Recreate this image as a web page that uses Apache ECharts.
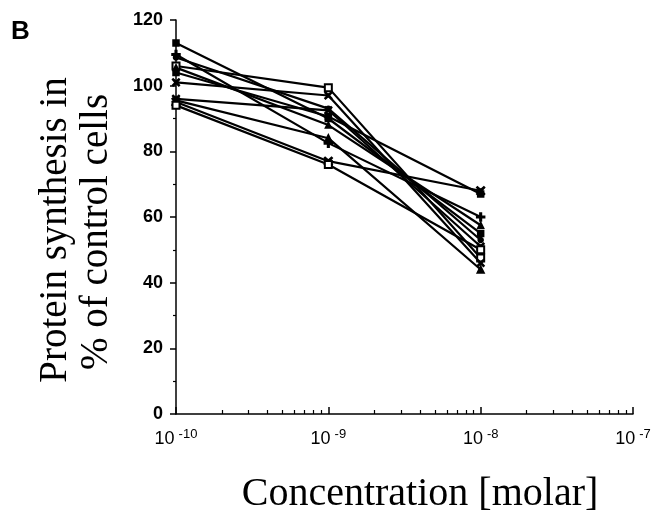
<!DOCTYPE html>
<html>
<head>
<meta charset="utf-8">
<script src="https://cdn.jsdelivr.net/npm/echarts@6/dist/echarts.min.js"></script>
<style>
html,body{margin:0;padding:0;background:#fff;}
#chart{width:660px;height:521px;}
</style>
</head>
<body>
<div id="chart"></div>
<script>
// Concentrations (molar)
var concentrations = [1e-10, 1e-9, 1e-8];
// Protein synthesis in % of control cells, one array per experiment
var seriesA = [113, 90, 55];
var seriesB = [109.5, 82.5, 60];
var seriesC = [108.6, 93, 53];
var seriesD = [106, 99.4, 47.5];
var seriesE = [105.5, 88, 57.5];
var seriesF = [104, 90.6, 67];
var seriesG = [101, 97, 46];
var seriesH = [96, 92.5, 51];
var seriesI = [95.5, 84, 44];
var seriesJ = [95, 77, 68];
var seriesK = [94, 76, 50];
var yTicks = [0, 20, 40, 60, 80, 100, 120];
var xDecades = [1e-10, 1e-9, 1e-8, 1e-7];

var PLUS = 'path://M-1,-5 h2 v4 h4 v2 h-4 v4 h-2 v-4 h-4 v-2 h4 z';
var CROSS = 'path://M-4,-5 L0,-1.4 L4,-5 L5,-4 L1.4,0 L5,4 L4,5 L0,1.4 L-4,5 L-5,4 L-1.4,0 L-5,-4 z';

var defs = [
  {d: seriesA, s: 'rect', size: 6},
  {d: seriesB, s: PLUS, size: 8},
  {d: seriesC, s: 'circle', size: 5},
  {d: seriesD, s: 'emptyRect', size: 7},
  {d: seriesE, s: 'triangle', size: 6},
  {d: seriesF, s: 'rect', size: 6},
  {d: seriesG, s: CROSS, size: 7},
  {d: seriesH, s: CROSS, size: 7},
  {d: seriesI, s: 'triangle', size: 7},
  {d: seriesJ, s: CROSS, size: 8},
  {d: seriesK, s: 'emptyRect', size: 7}
];

var minorVals = [];
for (var e = -10; e < -7; e++) {
  for (var m = 2; m <= 9; m++) minorVals.push(m * Math.pow(10, e));
}

var series = defs.map(function (o, i) {
  return {
    type: 'line',
    name: 'S' + (i + 1),
    xAxisIndex: 0,
    data: o.d.map(function (v, j) { return [concentrations[j], v]; }),
    symbol: o.s,
    symbolSize: o.size,
    showSymbol: true,
    lineStyle: {color: '#000', width: 2.2},
    itemStyle: {color: '#000', borderColor: '#000', borderWidth: 1.5},
    emphasis: {disabled: true},
    animation: false
  };
});

var chart = echarts.init(document.getElementById('chart'), null, {renderer: 'canvas'});
chart.setOption({
  backgroundColor: '#fff',
  animation: false,
  grid: {left: 176, right: 27, top: 20, bottom: 107, containLabel: false},
  xAxis: [{
    type: 'log', logBase: 10, min: 1e-10, max: 1e-7,
    axisLine: {show: true, lineStyle: {color: '#000', width: 1.5}},
    axisTick: {show: true, inside: true, length: 7, lineStyle: {color: '#000', width: 1.5}, customValues: xDecades},
    axisLabel: {
      color: '#000', margin: 14, customValues: xDecades,
      fontFamily: 'Liberation Sans',
      formatter: function (v) {
        var ex = Math.round(Math.log(v) / Math.LN10);
        return '{b|10}{s|' + ex + '}';
      },
      rich: {
        b: {fontSize: 18, fontFamily: 'Liberation Sans', color: '#000'},
        s: {fontSize: 13, fontFamily: 'Liberation Sans', color: '#000', padding: [0, 0, 10, 4]}
      }
    },
    splitLine: {show: false}
  }, {
    type: 'log', logBase: 10, min: 1e-10, max: 1e-7, position: 'bottom',
    axisLine: {show: false},
    axisTick: {show: true, inside: true, length: 4, lineStyle: {color: '#000', width: 1.2}, customValues: minorVals},
    axisLabel: {show: false},
    splitLine: {show: false}
  }],
  yAxis: {
    type: 'value', min: 0, max: 120, interval: 20,
    axisLine: {show: true, lineStyle: {color: '#000', width: 1.5}},
    axisTick: {show: true, length: 6, lineStyle: {color: '#000', width: 1.5}},
    minorTick: {show: true, splitNumber: 2, length: 3, lineStyle: {color: '#000', width: 1.2}},
    axisLabel: {color: '#000', fontSize: 18, fontWeight: 'bold', fontFamily: 'Liberation Sans', margin: 13},
    splitLine: {show: false}
  },
  graphic: [
    {type: 'text', left: 11, top: 19, style: {text: 'B', fontSize: 26, fontWeight: 'bold', fontFamily: 'Liberation Sans', fill: '#000'}},
    {type: 'text', x: 56, y: 230, rotation: Math.PI / 2,
      style: {text: 'Protein synthesis in', fontSize: 39, fontFamily: 'Liberation Serif', fill: '#000', align: 'center', verticalAlign: 'middle'}},
    {type: 'text', x: 97, y: 232, rotation: Math.PI / 2,
      style: {text: '% of control cells', fontSize: 39, fontFamily: 'Liberation Serif', fill: '#000', align: 'center', verticalAlign: 'middle'}},
    {type: 'text', x: 420, y: 494,
      style: {text: 'Concentration [molar]', fontSize: 40, fontFamily: 'Liberation Serif', fill: '#000', align: 'center', verticalAlign: 'middle'}}
  ],
  series: series
});
</script>
</body>
</html>
